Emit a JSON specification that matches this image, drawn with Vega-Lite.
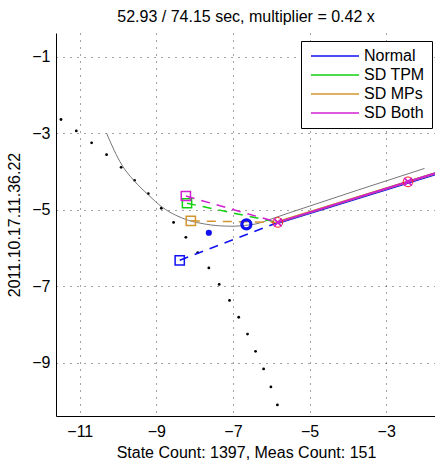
{
  "$schema": "https://vega.github.io/schema/vega-lite/v6.json",
  "autosize": {"type": "none"},
  "padding": {"left": 56, "top": 33, "right": 0, "bottom": 50},
  "width": 380,
  "height": 383,
  "background": "white",
  "title": {"text": "52.93 / 74.15 sec, multiplier = 0.42 x", "font": "Liberation Sans", "fontSize": 16, "fontWeight": "normal", "color": "black", "anchor": "middle", "offset": 8},
  "datasets": {
    "meas": [
      {"x": -11.49, "y": -2.64}, {"x": -11.09, "y": -2.94}, {"x": -10.69, "y": -3.25}, {"x": -10.30, "y": -3.56},
      {"x": -9.92, "y": -3.89}, {"x": -9.57, "y": -4.23}, {"x": -9.21, "y": -4.58}, {"x": -8.87, "y": -4.96},
      {"x": -8.55, "y": -5.33}, {"x": -8.23, "y": -5.72}, {"x": -7.92, "y": -6.12}, {"x": -7.63, "y": -6.52},
      {"x": -7.36, "y": -6.95}, {"x": -7.09, "y": -7.37}, {"x": -6.85, "y": -7.81}, {"x": -6.62, "y": -8.25},
      {"x": -6.41, "y": -8.70}, {"x": -6.20, "y": -9.16}, {"x": -6.01, "y": -9.63}, {"x": -5.84, "y": -10.10}
    ],
    "curve": [
      {"x": -10.30, "y": -3.00}, {"x": -10.10, "y": -3.45}, {"x": -9.90, "y": -3.83}, {"x": -9.60, "y": -4.22},
      {"x": -9.20, "y": -4.62}, {"x": -8.85, "y": -4.93}, {"x": -8.50, "y": -5.14}, {"x": -8.15, "y": -5.28},
      {"x": -7.75, "y": -5.37}, {"x": -7.35, "y": -5.42}, {"x": -7.00, "y": -5.43}, {"x": -6.70, "y": -5.41},
      {"x": -6.40, "y": -5.37}, {"x": -6.00, "y": -5.24}, {"x": -5.50, "y": -5.07}, {"x": -2.00, "y": -3.92}
    ],
    "dash": [
      {"series": "Normal", "x": -8.39, "y": -6.32}, {"series": "Normal", "x": -5.83, "y": -5.33},
      {"series": "SD TPM", "x": -8.20, "y": -4.83}, {"series": "SD TPM", "x": -5.83, "y": -5.33},
      {"series": "SD MPs", "x": -8.10, "y": -5.29}, {"series": "SD MPs", "x": -5.83, "y": -5.33},
      {"series": "SD Both", "x": -8.23, "y": -4.64}, {"series": "SD Both", "x": -5.83, "y": -5.33}
    ],
    "squares": [
      {"series": "Normal", "x": -8.39, "y": -6.32},
      {"series": "SD TPM", "x": -8.20, "y": -4.83},
      {"series": "SD MPs", "x": -8.10, "y": -5.29},
      {"series": "SD Both", "x": -8.23, "y": -4.64}
    ],
    "solid": [
      {"series": "Normal", "x": -5.83, "y": -5.35}, {"series": "Normal", "x": -1.60, "y": -4.04},
      {"series": "SD TPM", "x": -5.83, "y": -5.33}, {"series": "SD TPM", "x": -1.60, "y": -4.01},
      {"series": "SD MPs", "x": -5.85, "y": -5.32}, {"series": "SD MPs", "x": -1.60, "y": -4.01},
      {"series": "SD Both", "x": -5.83, "y": -5.33}, {"series": "SD Both", "x": -1.60, "y": -4.01}
    ],
    "targets": [{"x": -5.83, "y": -5.33}, {"x": -2.43, "y": -4.27}],
    "bigcircle": [{"x": -6.65, "y": -5.38}],
    "bluedot": [{"x": -7.63, "y": -5.60}]
  },
  "encoding": {
    "x": {"field": "x", "type": "quantitative", "scale": {"domain": [-11.62, -1.70], "nice": false, "zero": false},
      "axis": {"values": [-11, -9, -7, -5, -3], "format": "d", "labelPadding": 7, "titlePadding": 5, "title": "State Count: 1397, Meas Count: 151"}},
    "y": {"field": "y", "type": "quantitative", "scale": {"domain": [-10.39, -0.38], "nice": false, "zero": false},
      "axis": {"values": [-1, -3, -5, -7, -9], "format": "d", "labelPadding": 6, "titlePadding": 9, "title": "2011.10.17.11.36.22"}}
  },
  "layer": [
    {"data": {"name": "meas"}, "mark": {"type": "point", "filled": true, "color": "black", "size": 8, "opacity": 1}},
    {"data": {"name": "curve"}, "mark": {"type": "line", "color": "#777777", "strokeWidth": 1, "interpolate": "monotone"}},
    {"data": {"name": "dash"}, "mark": {"type": "line", "strokeWidth": 1.5, "strokeDash": [9, 7]},
      "encoding": {"color": {"field": "series", "type": "nominal", "sort": null,
        "scale": {"domain": ["Normal", "SD TPM", "SD MPs", "SD Both"], "range": ["#1010f0", "#10d010", "#d4952e", "#d020d0"]}}}},
    {"data": {"name": "squares"}, "mark": {"type": "point", "shape": "square", "filled": false, "size": 85, "strokeWidth": 1.5, "opacity": 1},
      "encoding": {"color": {"field": "series", "type": "nominal", "sort": null,
        "scale": {"domain": ["Normal", "SD TPM", "SD MPs", "SD Both"], "range": ["#1010f0", "#10d010", "#d4952e", "#d020d0"]}}}},
    {"data": {"name": "solid"}, "mark": {"type": "line", "strokeWidth": 2, "clip": true},
      "encoding": {"color": {"field": "series", "type": "nominal", "sort": null,
        "scale": {"domain": ["Normal", "SD TPM", "SD MPs", "SD Both"], "range": ["#1010f0", "#10d010", "#d4952e", "#d020d0"]}}}},
    {"data": {"name": "bluedot"}, "mark": {"type": "point", "filled": true, "color": "#1010f0", "size": 38, "opacity": 1}},
    {"data": {"name": "bigcircle"}, "mark": {"type": "point", "filled": false, "color": "#1010f0", "size": 82, "strokeWidth": 3.2, "opacity": 1}},
    {"data": {"name": "targets"}, "mark": {"type": "point", "filled": false, "color": "#ff2020", "size": 95, "strokeWidth": 1, "opacity": 1}},
    {"data": {"name": "targets"}, "mark": {"type": "point", "shape": "M-1,-1L1,1M-1,1L1,-1", "filled": false, "color": "#d020d0", "size": 60, "strokeWidth": 1.8, "opacity": 1}}
  ],
  "resolve": {"legend": {"color": "shared"}},
  "config": {
    "view": {"stroke": null},
    "axis": {"domainColor": "black", "domainWidth": 1, "tickSize": 0, "labelFont": "Liberation Sans", "labelFontSize": 16, "labelColor": "black", "titleFont": "Liberation Sans", "titleFontSize": 16, "titleFontWeight": "normal", "titleColor": "black", "grid": true, "gridDash": [1, 6], "gridColor": "#333", "gridOpacity": 0.9, "gridWidth": 1},
    "legend": {"title": null, "orient": "none", "legendX": 245, "legendY": 8, "symbolType": "M-4.8,0H4.8", "symbolSize": 100, "symbolOffset": 19, "symbolStrokeWidth": 1.5, "symbolDash": [100, 0], "symbolOpacity": 1, "padding": 7, "rowPadding": 3, "labelOffset": 21, "strokeColor": "black", "fillColor": "white", "labelFont": "Liberation Sans", "labelFontSize": 16, "labelColor": "black"}
  }
}
